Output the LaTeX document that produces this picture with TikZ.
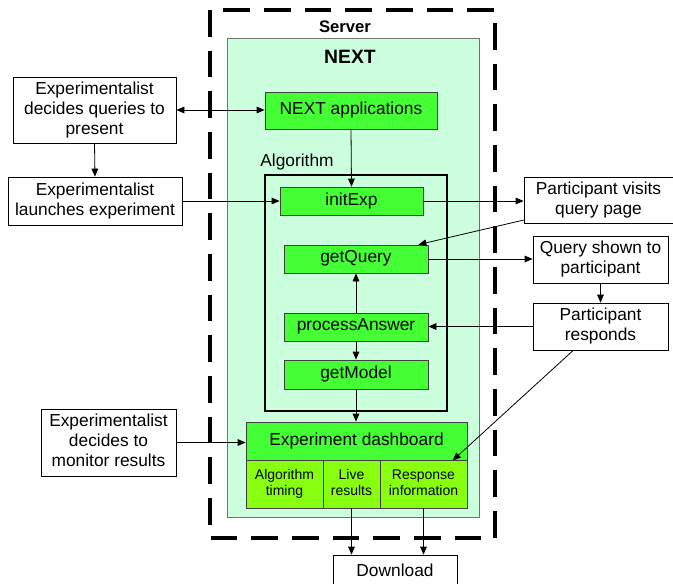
\documentclass[tikz,border=0pt]{standalone}
\usepackage{fontspec}
\setmainfont{Liberation Sans}
\usetikzlibrary{arrows.meta}

\definecolor{mintbg}{RGB}{204,255,221}
\definecolor{appgreen}{RGB}{68,255,51}
\definecolor{limegreen}{RGB}{136,255,17}

\newcommand{\boxstrut}{\rule[-3.2pt]{0pt}{11.2pt}}
\newcommand{\substrut}{\rule[-1.8pt]{0pt}{10.4pt}}

\tikzset{
  boxtext/.style={align=center, inner sep=0pt,
    execute at begin node=\boxstrut, execute at end node=\boxstrut},
  whitebox/.style={draw, fill=white, line width=0.6pt, boxtext,
    font=\fontsize{13}{15}\selectfont},
  greenbox/.style={draw=black!75, fill=appgreen, line width=0.6pt, boxtext,
    font=\fontsize{13}{15}\selectfont},
  subbox/.style={draw=black!75, fill=limegreen, line width=0.6pt, align=center, inner sep=0pt,
    execute at begin node=\substrut, execute at end node=\substrut,
    font=\fontsize{10.5}{12}\selectfont, minimum height=36pt},
  arr/.style={-{Triangle[length=6pt,width=5pt]}, line width=0.6pt},
  darr/.style={{Triangle[length=6pt,width=5pt]}-{Triangle[length=6pt,width=5pt]}, line width=0.6pt}
}

\begin{document}
\begin{tikzpicture}[x=0.75pt, y=-0.75pt]
  \useasboundingbox (0,0) rectangle (673,583);

  % Server and NEXT frames
  \draw[line width=2.3pt, dash pattern=on 20pt off 10.5pt] (210,10) rectangle (495,538);
  \node[font=\bfseries\fontsize{12.5}{15}\selectfont] (serverlbl) at (345,27) {Server};
  \draw[draw=black!55, fill=mintbg, line width=0.6pt] (227,38) rectangle (479,517);
  \node[font=\bfseries\fontsize{14.5}{17}\selectfont] (nextlbl) at (350,57) {NEXT};

  % NEXT applications
  \node[greenbox, minimum width=129pt, minimum height=27.75pt] (nextapp) at (351,110.5) {NEXT applications};

  % Algorithm
  \node[font=\fontsize{13}{15}\selectfont] (algolbl) at (297,162) {Algorithm};
  \draw[line width=1.6pt] (265,175) rectangle (447,411);
  \node[greenbox, minimum width=107.25pt, minimum height=21pt] (initexp) at (351.5,201) {initExp};
  \node[greenbox, minimum width=108pt, minimum height=21pt] (getquery) at (356,259) {getQuery};
  \node[greenbox, minimum width=108pt, minimum height=21pt] (procans) at (356,327) {processAnswer};
  \node[greenbox, minimum width=108pt, minimum height=21.75pt] (getmodel) at (356,374.5) {getModel};

  % Experiment dashboard
  \node[greenbox, minimum width=165.75pt, minimum height=28.5pt] (dash) at (356.5,441) {Experiment dashboard};
  \node[subbox, minimum width=57.75pt] (algtiming) at (284.5,484) {Algorithm\\timing};
  \node[subbox, minimum width=42.75pt] (liveres) at (351.5,484) {Live\\results};
  \node[subbox, minimum width=65.25pt] (respinfo) at (423.5,484) {Response\\information};

  % Download
  \node[whitebox, minimum width=93pt, minimum height=26.25pt] (download) at (395,572.5) {Download};

  % Experimentalist
  \node[whitebox, minimum width=122.25pt, minimum height=49.5pt] (expquery) at (94.5,110) {Experimentalist\\decides queries to\\present};
  \node[whitebox, minimum width=130.5pt, minimum height=36pt] (explaunch) at (95,201) {Experimentalist\\launches experiment};
  \node[whitebox, minimum width=101.25pt, minimum height=50.25pt] (expmonitor) at (108.5,442.5) {Experimentalist\\decides to\\monitor results};

  % Participant
  \node[whitebox, minimum width=111.75pt, minimum height=34.5pt] (visits) at (598.5,200) {Participant visits\\query page};
  \node[whitebox, minimum width=101.25pt, minimum height=35.25pt] (shown) at (600.5,259.5) {Query shown to\\participant};
  \node[whitebox, minimum width=101.25pt, minimum height=35.25pt] (responds) at (600.5,326.5) {Participant\\responds};

  % Verbindungen
  \draw[darr] (expquery.east) -- (expquery.east -| nextapp.west);
  \draw[arr] (expquery.south) -- (explaunch.north);
  \draw[arr] (explaunch.east) -- (explaunch.east -| initexp.west);
  \draw[arr] (nextapp.south) -- (initexp.north);
  \draw[arr] (initexp.east) -- (initexp.east -| visits.west);
  \draw[arr] ([yshift=2.5pt]visits.south west) -- ([xshift=-7.5pt]getquery.north east);
  \draw[arr] (getquery.east) -- (getquery.east -| shown.west);
  \draw[arr] (shown.south) -- (responds.north);
  \draw[arr] (responds.west) -- (responds.west -| procans.east);
  \draw[arr] (procans.north) -- (getquery.south);
  \draw[arr] (procans.south) -- (getmodel.north);
  \draw[arr] (getmodel.south) -- (getmodel.south |- dash.north);
  \draw[arr] (expmonitor.east) -- (expmonitor.east -| dash.west);
  \draw[arr] ([xshift=-20.5pt]responds.south) -- ([xshift=-11pt]dash.south east);
  \draw[arr] (liveres.south) -- (liveres.south |- download.north);
  \draw[arr] (respinfo.south) -- (respinfo.south |- download.north);
\end{tikzpicture}
\end{document}
